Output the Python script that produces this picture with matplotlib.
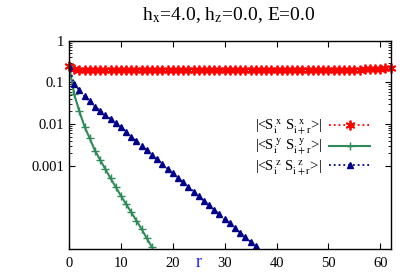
import numpy as np
import matplotlib
matplotlib.use('Agg')
import matplotlib.pyplot as plt
from matplotlib.ticker import FixedLocator, FixedFormatter, NullFormatter

plt.rcParams['font.family'] = ['Liberation Serif', 'DejaVu Serif']
plt.rcParams['mathtext.fontset'] = 'stix'

# correlation data
r_x = list(range(0, 63))
corr_x = [0.25, 0.205, 0.200, 0.199, 0.199, 0.199, 0.199, 0.199, 0.199, 0.199,
          0.199, 0.199, 0.199, 0.199, 0.199, 0.199, 0.199, 0.199, 0.199, 0.199,
          0.199, 0.199, 0.199, 0.199, 0.199, 0.199, 0.199, 0.199, 0.199, 0.199,
          0.199, 0.199, 0.199, 0.199, 0.199, 0.199, 0.199, 0.199, 0.199, 0.199,
          0.199, 0.199, 0.199, 0.199, 0.199, 0.199, 0.199, 0.199, 0.199, 0.199,
          0.199, 0.199, 0.200, 0.200, 0.201, 0.202, 0.203, 0.205, 0.207, 0.210,
          0.214, 0.219, 0.226]

r_y = list(range(0, 17))
corr_y = [0.25, 0.052, 0.020, 0.0087, 0.0045, 0.0023, 0.00138, 0.00083, 0.0005,
          0.00031, 0.00019, 0.00012, 7.6e-5, 4.8e-5, 3.0e-5, 1.8e-5, 1.1e-5]

r_z = list(range(0, 37))
corr_z = [0.25, 0.093, 0.065, 0.046, 0.035, 0.026, 0.021, 0.0166, 0.0132, 0.0105,
          0.0085, 0.0066, 0.0050, 0.0039, 0.0030, 0.00234, 0.00182, 0.00141, 0.0011,
          0.00085, 0.00066, 0.00051, 0.0004, 0.00031, 0.00024, 0.000186, 0.000145,
          0.000112, 8.7e-5, 6.8e-5, 5.2e-5, 4.1e-5, 3.2e-5, 2.45e-5, 1.9e-5, 1.5e-5,
          1.15e-5]

ytick_vals = [1, 0.1, 0.01, 0.001]
ytick_labels = ['1', '0.1', '0.01', '0.001']
xtick_vals = [0, 10, 20, 30, 40, 50, 60]

fig = plt.figure(figsize=(4.15, 2.77), dpi=100)
ax = fig.add_axes([0.1663, 0.101, 0.775, 0.752])

ax.plot(r_x, corr_x, color='red', ls=':', lw=1.3, marker=(6, 2, 0), ms=7, mew=1.3,
        label=r'|<S$_\mathrm{i}^{\ \mathrm{x}}$ S$_\mathrm{i+r}^{\ \ \mathrm{x}}$>|', clip_on=False)
ax.plot(r_y, corr_y, color='#2e8b57', ls='-', lw=1.5, marker='+', ms=5.5, mew=1.0,
        label=r'|<S$_\mathrm{i}^{\ \mathrm{y}}$ S$_\mathrm{i+r}^{\ \ \mathrm{y}}$>|')
ax.plot(r_z, corr_z, color='#00008b', ls=':', lw=1.3, marker='^', ms=4.5,
        label=r'|<S$_\mathrm{i}^{\ \mathrm{z}}$ S$_\mathrm{i+r}^{\ \ \mathrm{z}}$>|')

ax.set_yscale('log')
ax.set_xlim(0, 62)
ax.set_ylim(1e-5, 1)

ax.yaxis.set_major_locator(FixedLocator(ytick_vals))
ax.yaxis.set_major_formatter(FixedFormatter(ytick_labels))
minors = [m * 10.0 ** k for k in (-3, -2, -1) for m in range(2, 10)]
ax.yaxis.set_minor_locator(FixedLocator(minors))
ax.yaxis.set_minor_formatter(NullFormatter())
ax.set_xticks(xtick_vals)

ax.tick_params(which='both', direction='in', top=True, right=True, labelsize=10.5)
ax.tick_params(which='major', length=4, width=0.8)
ax.tick_params(which='minor', length=2, width=0.6)
ax.tick_params(axis='x', pad=6)
for s in ax.spines.values():
    s.set_linewidth(1.0)

ax.text(25, -0.063, 'r', color='#1a1aff', fontsize=13, ha='center', va='center',
        transform=ax.get_xaxis_transform())

fig.text(0.552, 0.945, r'h$_\mathrm{x}$=4.0, h$_\mathrm{z}$=0.0, E=0.0', ha='center',
         va='center', fontsize=14)

ax.legend(loc='upper right', bbox_to_anchor=(0.955, 0.66), markerfirst=False,
          frameon=False, fontsize=10.5, handlelength=2.8, labelspacing=-0.02,
          handletextpad=0.5, borderaxespad=0)

fig.savefig('out.png', dpi=100)
